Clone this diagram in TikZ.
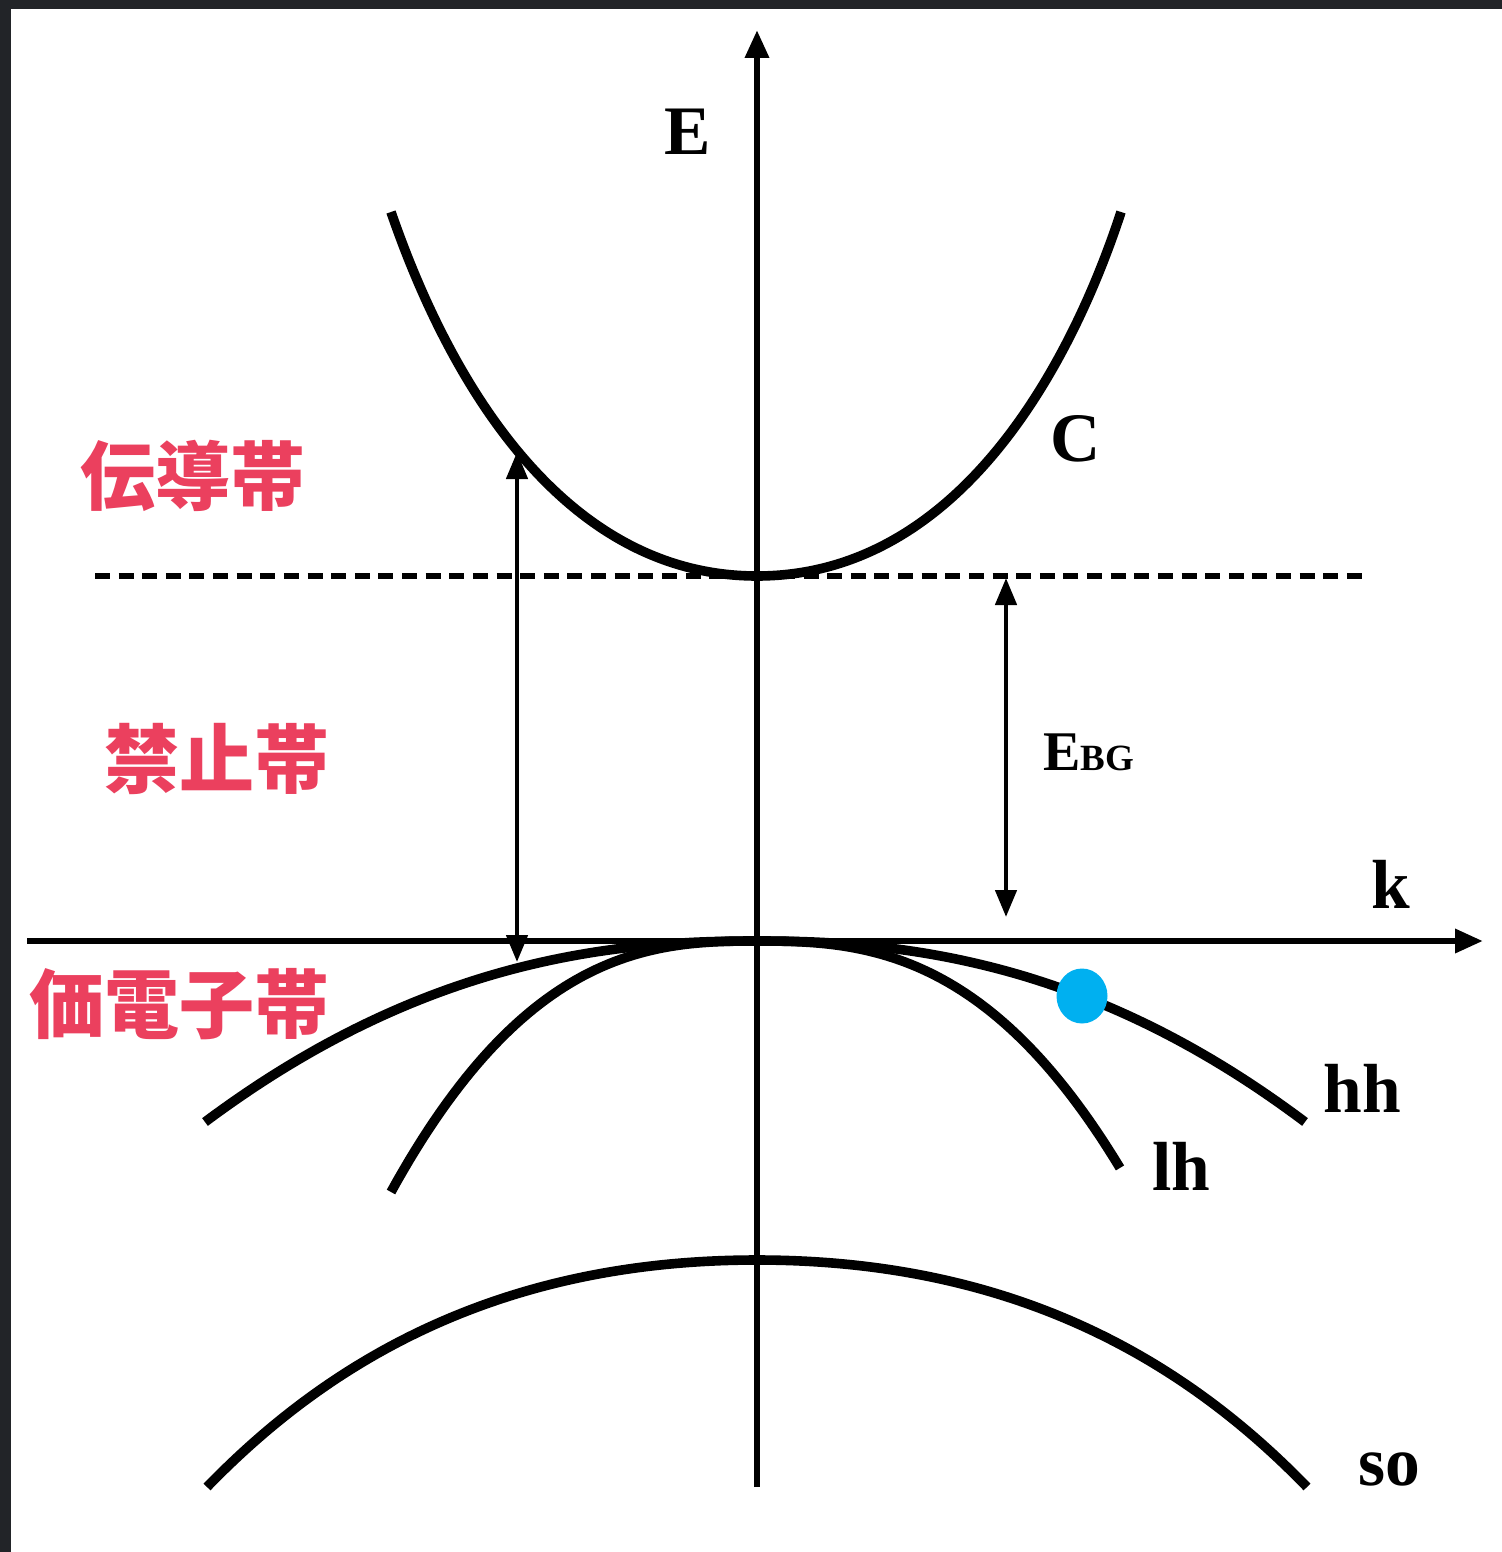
\documentclass[tikz,border=0pt]{standalone}
\usepackage{fontspec}
\setmainfont{Liberation Serif}
\newfontfamily\jpfont{Noto Sans CJK JP}
\usepackage{xcolor}
\usepackage{tikz}
\usetikzlibrary{arrows.meta, shapes.geometric}
\definecolor{framegray}{RGB}{34,36,40}
\definecolor{jpred}{RGB}{235,64,94}
\definecolor{holeblue}{RGB}{0,176,240}

\begin{document}
\begin{tikzpicture}[
  x=0.5pt, y=-0.5pt,
  band/.style={line width=4.8pt},
  axis/.style={line width=3.2pt, -{Triangle[length=14pt, width=11.5pt]}},
  gaparrow/.style={line width=2.3pt,
    {Triangle[length=13.5pt, width=10.5pt]}-{Triangle[length=13.5pt, width=10.5pt]}},
  lbl/.style={font=\bfseries\fontsize{34.75}{40}\selectfont, inner sep=0pt, anchor=base},
  jp/.style={font=\jpfont\bfseries\fontsize{37.5}{40}\selectfont, text=jpred, inner sep=0pt},
]
  % page and dark frame
  \useasboundingbox (0,0) rectangle (1502,1552);
  \fill[framegray] (0,0) rectangle (1502,1552);
  \fill[white] (11,9) rectangle (1502,1552);
  % axes
  \coordinate (Ebot) at (757,1487);
  \coordinate (Etop) at (757,30);
  \coordinate (kleft) at (27,941);
  \coordinate (kright) at (1483,941);
  \draw[axis] (Ebot) -- (Etop);
  \draw[axis] (kleft) -- (kright);
  % conduction band edge
  \coordinate (cbl) at (95,576);
  \coordinate (cbr) at (1362,576);
  \draw[line width=3pt, dash pattern=on 7.5pt off 4.31pt] (cbl) -- (cbr);
  % bands
  \draw[band] (391,212) .. controls (425,310) and (530,576) .. (757,576)
              .. controls (984,576) and (1089,310) .. (1121,212);
  \draw[band] plot[domain=-552:-0.5, samples=60] ({757+\x}, {941+181*(abs(\x)/552)^2.28})
              -- plot[domain=0.5:548, samples=60] ({757+\x}, {941+181*(\x/548)^2.28});
  \draw[band] plot[domain=-366:-0.5, samples=60] ({757+\x}, {941+251*(abs(\x)/366)^2.65})
              -- plot[domain=0.5:363, samples=60] ({757+\x}, {941+227*(\x/363)^2.65});
  \draw[band] (207,1487) .. controls (330,1360) and (500,1260) .. (757,1260)
              .. controls (1014,1260) and (1184,1360) .. (1307,1487);
  % gap arrows
  \coordinate (ga) at (517,452);
  \coordinate (gb) at (517,962);
  \draw[gaparrow] (ga) -- (gb);
  \coordinate (ea) at (1006,578);
  \coordinate (eb) at (1006,917);
  \draw[gaparrow] (ea) -- (eb);
  % hole
  \node[ellipse, fill=holeblue, inner sep=0pt, minimum width=25.5pt, minimum height=27.5pt] (hole) at (1082,996) {};
  % labels
  \node[lbl] (Elbl) at (688,155) {E};
  \node[lbl] (Clbl) at (1076,461) {C};
  \node[lbl] (klbl) at (1391,908) {k};
  \node[lbl] (hhlbl) at (1362,1112) {hh};
  \node[lbl] (lhlbl) at (1181,1190) {lh};
  \node[lbl] (solbl) at (1389,1485) {so};
  \node[lbl, font=\bfseries\fontsize{28}{32}\selectfont] (gaplbl) at (1089,770) {E{\fontsize{18.5}{20}\selectfont BG}};
  \node[jp] (cband) at (193,476) {伝導帯};
  \node[jp] (fband) at (217,759) {禁止帯};
  \node[jp] (vband) at (179,1004) {価電子帯};
\end{tikzpicture}
\end{document}
